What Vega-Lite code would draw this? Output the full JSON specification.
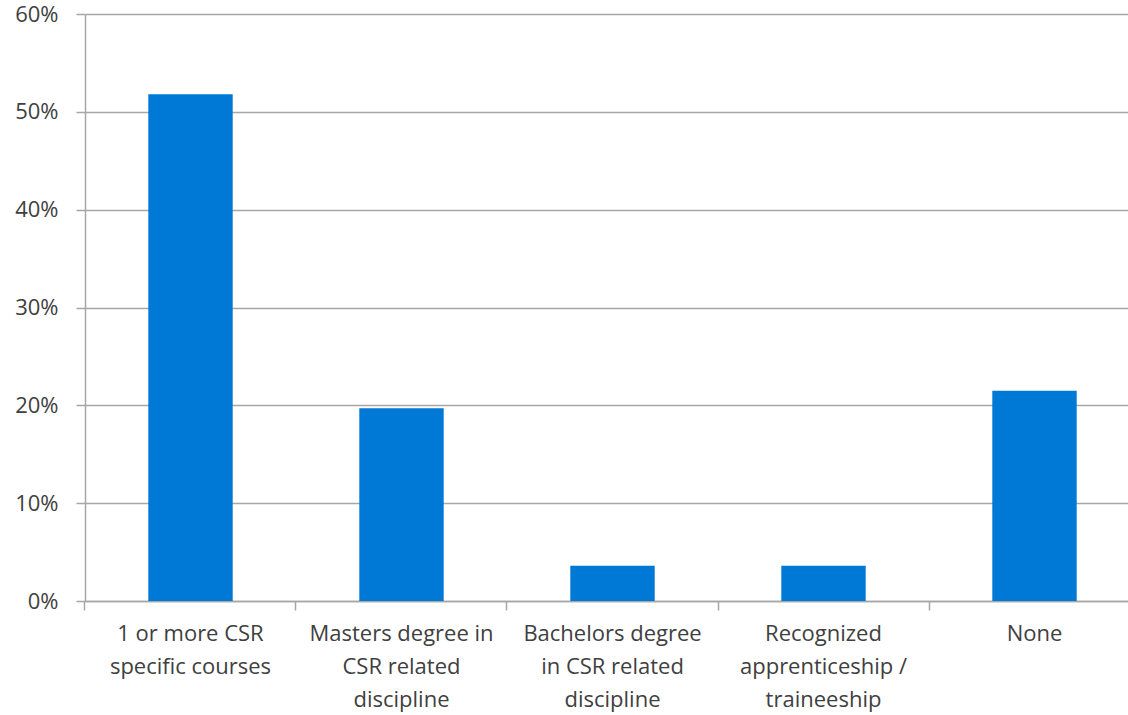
{
  "$schema": "https://vega.github.io/schema/vega-lite/v6.json",
  "width": 1055,
  "height": 587,
  "autosize": {"type": "none"},
  "padding": {"left": 85, "top": 14, "right": 0, "bottom": 114},
  "background": "white",
  "config": {"view": {"stroke": null}},
  "data": {
    "values": [
      {"category": "1 or more CSR specific courses", "share": 0.518},
      {"category": "Masters degree in CSR related discipline", "share": 0.197},
      {"category": "Bachelors degree in CSR related discipline", "share": 0.036},
      {"category": "Recognized apprenticeship / traineeship", "share": 0.036},
      {"category": "None", "share": 0.215}
    ]
  },
  "mark": {"type": "bar", "color": "#0079d6"},
  "encoding": {
    "x": {
      "field": "category",
      "type": "nominal",
      "sort": null,
      "scale": {"paddingInner": 0.6, "paddingOuter": 0.3},
      "axis": {
        "title": null,
        "labelAngle": 0,
        "labelFont": "Open Sans",
        "labelFontSize": 22,
        "labelColor": "#404040",
        "labelPadding": 13,
        "labelLineHeight": 33,
        "labelBaseline": "top",
        "labelLimit": 300,
        "domainColor": "#a6a6a6",
        "domainWidth": 1.5,
        "tickColor": "#a6a6a6",
        "tickWidth": 1.5,
        "tickSize": 9,
        "bandPosition": -0.75,
        "labelExpr": "datum.value == '1 or more CSR specific courses' ? ['1 or more CSR', 'specific courses'] : datum.value == 'Masters degree in CSR related discipline' ? ['Masters degree in', 'CSR related', 'discipline'] : datum.value == 'Bachelors degree in CSR related discipline' ? ['Bachelors degree', 'in CSR related', 'discipline'] : datum.value == 'Recognized apprenticeship / traineeship' ? ['Recognized', 'apprenticeship /', 'traineeship'] : datum.value"
      }
    },
    "y": {
      "field": "share",
      "type": "quantitative",
      "scale": {"domain": [0, 0.6], "nice": false},
      "axis": {
        "title": null,
        "format": ".0%",
        "values": [0, 0.1, 0.2, 0.3, 0.4, 0.5, 0.6],
        "labelFont": "Open Sans",
        "labelFontSize": 22,
        "labelColor": "#404040",
        "labelPadding": 18,
        "domainColor": "#a6a6a6",
        "domainWidth": 1.5,
        "tickColor": "#a6a6a6",
        "tickWidth": 1.5,
        "tickSize": 9,
        "gridColor": "#a6a6a6",
        "gridWidth": 1.5
      }
    }
  }
}
